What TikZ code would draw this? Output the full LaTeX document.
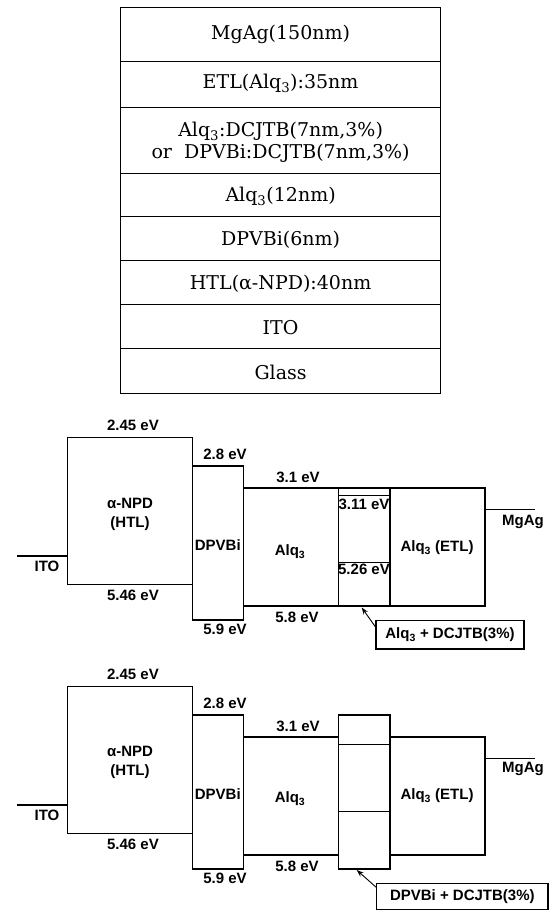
\documentclass[tikz,border=0pt]{standalone}
\usepackage{fontspec}
\newfontfamily\labelfont{Liberation Sans}
\newfontfamily\stackfont{DejaVu Serif}
\usetikzlibrary{arrows.meta}

\begin{document}
\begin{tikzpicture}[x=1pt,y=-1pt,>=Stealth,
    layer/.style={font=\stackfont\fontsize{19}{22}\selectfont},
    band/.style={line width=1.1pt},
    ev/.style={font=\labelfont\bfseries\fontsize{15}{19}\selectfont,inner sep=1pt},
    callout/.style={draw,line width=1.1pt,inner sep=0pt,font=\labelfont\bfseries\fontsize{15}{19}\selectfont}]
    \useasboundingbox (0,0) rectangle (552,910);

    % Layer stack
    \draw[line width=1pt] (120.7,7) rectangle (440.5,393);
    \draw[line width=1pt] (120.7,61) -- (440.5,61) (120.7,107) -- (440.5,107)
        (120.7,173) -- (440.5,173) (120.7,216) -- (440.5,216)
        (120.7,260) -- (440.5,260) (120.7,304) -- (440.5,304)
        (120.7,348) -- (440.5,348);
    \node[layer] (mgag) at (280.6,34) {MgAg(150nm)};
    \node[layer] (etl) at (280.6,83) {ETL(Alq\textsubscript{3}):35nm};
    \node[layer,align=center] (eml) at (280.6,142) {Alq\textsubscript{3}:DCJTB(7nm,3\%)\\or\ \ DPVBi:DCJTB(7nm,3\%)};
    \node[layer] (alq) at (280.6,196) {Alq\textsubscript{3}(12nm)};
    \node[layer] (dpvbi) at (280.6,240) {DPVBi(6nm)};
    \node[layer] (htl) at (280.6,284) {HTL(α-NPD):40nm};
    \node[layer] (ito) at (280.6,328) {ITO};
    \node[layer] (glass) at (280.6,372) {Glass};

    % Energy levels, Alq3 host
    \draw[band] (17,556) -- (67.7,556);
    \draw[band] (67.7,437.3) rectangle (192.3,584.3);
    \draw[band] (192.3,466) rectangle (243.3,620);
    \draw[band] (243.3,488) rectangle (338.3,606);
    \draw[band] (338.3,488) rectangle (390,606);
    \draw[line width=0.9pt] (338.3,495) -- (390,495);
    \draw[line width=0.9pt] (338.3,562) -- (390,562);
    \draw[band] (390,488) rectangle (485,606);
    \draw[band] (485,509.3) -- (535,509.3);

    \node[ev] (npdLumoA) at (133,425) {2.45 eV};
    \node[ev] (dpvLumoA) at (225,454) {2.8 eV};
    \node[ev] (alqLumoA) at (298,477) {3.1 eV};
    \node[ev] (dcjLumoA) at (364,504) {3.11 eV};
    \node[ev] (dcjHomoA) at (364,569) {5.26 eV};
    \node[ev] (npdHomoA) at (133,595) {5.46 eV};
    \node[ev] (dpvHomoA) at (225,629) {5.9 eV};
    \node[ev] (alqHomoA) at (297,617) {5.8 eV};
    \node[ev] (itoA) at (47,566) {ITO};
    \node[ev] (mgagA) at (523,522) {MgAg};
    \node[ev,align=center] (npdA) at (130,514.5) {α-NPD\\(HTL)};
    \node[ev] (dpvA) at (217.8,545) {DPVBi};
    \node[ev] (alqA) at (290,552) {Alq\textsubscript{3}};
    \node[ev] (etlA) at (437,548) {Alq\textsubscript{3} (ETL)};

    \node[callout,minimum width=148pt,minimum height=28.5pt] (callA) at (450,634.75) {Alq\textsubscript{3} + DCJTB(3\%)};
    \coordinate (tipA) at (361.7,607.5);
    \draw[-{Stealth[length=7pt,width=5pt]},line width=0.9pt] (callA.174) -- (tipA);

    % Energy levels, DPVBi host
    \begin{scope}[yshift=-249pt]
    \draw[band] (17,556) -- (67.7,556);
    \draw[band] (67.7,437.3) rectangle (192.3,584.3);
    \draw[band] (192.3,466) rectangle (243.3,620);
    \draw[band] (243.3,488) rectangle (338.3,606);
    \draw[band] (390,488) rectangle (485,606);
    \draw[band] (338.3,466) rectangle (390,620);
    \draw[line width=0.9pt] (338.3,495) -- (390,495);
    \draw[line width=0.9pt] (338.3,562) -- (390,562);
    \draw[band] (485,509.3) -- (535,509.3);

    \node[ev] (npdLumoB) at (133,425) {2.45 eV};
    \node[ev] (dpvLumoB) at (225,454) {2.8 eV};
    \node[ev] (alqLumoB) at (298,477) {3.1 eV};
    \node[ev] (npdHomoB) at (133,595) {5.46 eV};
    \node[ev] (dpvHomoB) at (225,629) {5.9 eV};
    \node[ev] (alqHomoB) at (297,617) {5.8 eV};
    \node[ev] (itoB) at (47,566) {ITO};
    \node[ev] (mgagB) at (523,520) {MgAg};
    \node[ev,align=center] (npdB) at (130,513) {α-NPD\\(HTL)};
    \node[ev] (dpvB) at (217.8,545) {DPVBi};
    \node[ev] (alqB) at (290,550) {Alq\textsubscript{3}};
    \node[ev] (etlB) at (437,547) {Alq\textsubscript{3} (ETL)};

    \node[callout,minimum width=171.3pt,minimum height=26pt] (callB) at (462.35,647.3) {DPVBi + DCJTB(3\%)};
    \coordinate (tipB) at (356.7,621);
    \draw[-{Stealth[length=7pt,width=5pt]},line width=0.9pt] (callB.174.5) -- (tipB);
    \end{scope}
\end{tikzpicture}
\end{document}
